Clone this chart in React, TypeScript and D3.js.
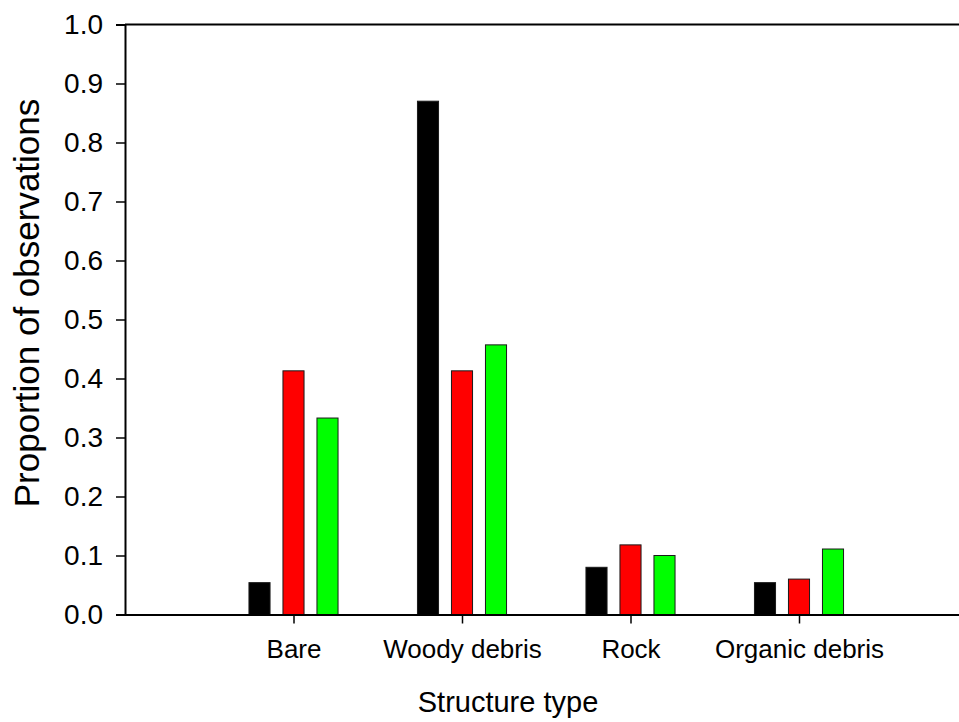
import { useEffect, useRef } from 'react';
import * as d3 from 'd3';

const categories = ['Bare', 'Woody debris', 'Rock', 'Organic debris'];
const series = ['s1', 's2', 's3'];
const seriesColors = ['#000000', '#ff0000', '#00ff00'];
const values1 = [0.054, 0.870, 0.080, 0.054];
const values2 = [0.413, 0.413, 0.118, 0.060];
const values3 = [0.333, 0.457, 0.100, 0.111];
const yTicks = [0, 0.1, 0.2, 0.3, 0.4, 0.5, 0.6, 0.7, 0.8, 0.9, 1.0];

const App = () => {
    const svgRef = useRef<SVGSVGElement>(null);
    const width = 959;
    const height = 722;
    const left = 125;
    const top = 24.5;
    const bottom = 614.5;
    const font = 'Liberation Sans, Arial, sans-serif';

    useEffect(() => {
        const svg = d3.select(svgRef.current);
        svg.selectAll('*').remove();

        const y = d3.scaleLinear().domain([0, 1]).range([bottom, top]);
        const x = d3.scaleLinear().domain([0, 5]).range([left, left + 5 * 168.5]);
        const inner = d3.scaleBand().domain(series).range([-51, 51]).paddingInner(0.38).paddingOuter(0.19);
        const allValues = [values1, values2, values3];

        const data = categories.flatMap((c, i) =>
            series.map((s, j) => ({ cat: i + 1, s, j, v: allValues[j][i] })));

        svg.append('g')
            .selectAll('rect')
            .data(data)
            .join('rect')
            .attr('x', d => x(d.cat) + (inner(d.s) as number))
            .attr('y', d => y(d.v))
            .attr('width', inner.bandwidth())
            .attr('height', d => bottom - y(d.v))
            .attr('fill', d => seriesColors[d.j])
            .attr('stroke', '#1a1a1a')
            .attr('stroke-width', 1);

        // y axis
        const yAxis = svg.append('g')
            .attr('transform', `translate(${left},0)`)
            .call(d3.axisLeft(y).tickValues(yTicks).tickFormat(d3.format('.1f')).tickSize(9).tickPadding(13));
        yAxis.select('.domain').attr('stroke-width', 2);
        yAxis.selectAll('.tick line').attr('stroke-width', 1.5);
        yAxis.selectAll('text').attr('font-family', font).attr('font-size', 28).attr('fill', '#000');

        // x axis
        const xAxis = svg.append('g')
            .attr('transform', `translate(0,${bottom})`)
            .call(d3.axisBottom(x).tickValues([1, 2, 3, 4])
                .tickFormat(d => categories[(d as number) - 1]).tickSize(9).tickSizeOuter(0).tickPadding(16));
        xAxis.select('.domain').attr('stroke-width', 2);
        xAxis.selectAll('.tick line').attr('stroke-width', 1.5);
        xAxis.selectAll('text').attr('font-family', font).attr('font-size', 26).attr('fill', '#000');

        // top border
        svg.append('line')
            .attr('x1', left).attr('x2', width)
            .attr('y1', top).attr('y2', top)
            .attr('stroke', '#000').attr('stroke-width', 2);

        svg.append('text')
            .attr('x', 508).attr('y', 712)
            .attr('text-anchor', 'middle')
            .attr('font-family', font).attr('font-size', 29)
            .text('Structure type');

        svg.append('text')
            .attr('transform', 'translate(39,303) rotate(-90)')
            .attr('text-anchor', 'middle')
            .attr('font-family', font).attr('font-size', 35)
            .text('Proportion of observations');
    }, []);

    return (
        <div style={{ position: 'absolute', left: 0, top: 0 }}>
            <svg ref={svgRef} width={width} height={height} style={{ display: 'block', background: '#fff' }}></svg>
        </div>
    );
};

export default App;
